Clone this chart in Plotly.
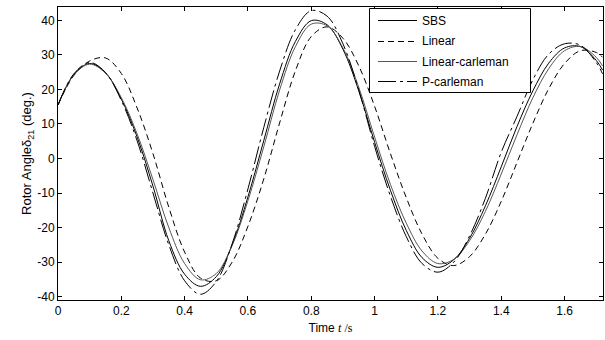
import plotly.graph_objects as go

t = [0, 0.05, 0.1, 0.15, 0.2, 0.25, 0.3, 0.35, 0.4, 0.45, 0.5, 0.55, 0.6, 0.65,
     0.7, 0.75, 0.8, 0.85, 0.9, 0.95, 1.0, 1.05, 1.1, 1.15, 1.2, 1.25, 1.3, 1.35,
     1.4, 1.45, 1.5, 1.55, 1.6, 1.65, 1.7, 1.72]

sbs = [15.5, 24.3, 27.5, 24.8, 17.2, 6.2, -8.0, -23.8, -33.5, -37.0, -34.2, -25.0,
       -11.1, 5.2, 21.6, 33.9, 39.9, 38.7, 31.6, 19.6, 4.7, -9.2, -20.8, -28.7,
       -31.5, -29.3, -23.1, -13.7, -2.4, 9.3, 19.6, 27.6, 32.0, 32.4, 28.4, 25.6]

linear = [15.5, 24.0, 28.2, 29.1, 24.6, 14.6, 1.4, -14.1, -27.1, -34.6, -35.4, -30.0,
          -19.6, -5.9, 10.3, 25.4, 35.3, 38.1, 34.8, 26.8, 15.1, 1.4, -11.3, -21.9,
          -28.9, -31.0, -28.4, -21.9, -12.4, -1.1, 10.2, 20.2, 27.5, 31.2, 30.7, 29.3]

lin_carleman = [15.5, 24.2, 27.3, 24.7, 17.6, 7.1, -6.1, -20.0, -30.4, -35.1, -33.3, -25.2,
                -12.2, 3.4, 19.8, 32.4, 38.9, 38.4, 32.0, 20.6, 6.2, -7.5, -18.7, -26.8,
                -30.4, -29.2, -23.8, -15.3, -4.5, 6.9, 17.6, 26.0, 31.2, 32.4, 29.3, 26.8]

p_carleman = [15.5, 24.5, 27.8, 24.9, 16.8, 5.1, -10.0, -25.0, -35.4, -39.3, -35.6, -24.7,
              -8.8, 9.0, 25.3, 37.3, 42.8, 41.2, 33.2, 19.8, 3.5, -10.9, -22.6, -30.4,
              -32.9, -30.0, -22.4, -11.5, 1.8, 12.2, 22.8, 30.2, 33.2, 32.8, 27.8, 24.5]

names = ["SBS", "Linear", "Linear-carleman", "P-carleman"]
series = [sbs, linear, lin_carleman, p_carleman]
styles = [
    dict(color="black", width=1, dash="solid"),
    dict(color="black", width=1, dash="6px,4px"),
    dict(color="#444444", width=0.9, dash="solid"),
    dict(color="black", width=1, dash="18px,4px,3px,4px"),
]

fig = go.Figure()
for n, s, st in zip(names, series, styles):
    fig.add_trace(go.Scatter(x=t, y=s, mode="lines", name=n, showlegend=False,
                             line=dict(shape="spline", smoothing=1, **st)))

# Plot-area geometry (pixels) used to place the legend box in paper coords
L, R, T, B = 58, 603, 7, 300
W, H = R - L, B - T
def px(x):
    return (x - L) / W
def py(y):
    return (B - y) / H

shapes = [dict(type="rect", xref="paper", yref="paper",
               x0=px(369.5), x1=px(530.5), y0=py(92.5), y1=py(8.5),
               fillcolor="white", line=dict(color="black", width=1), layer="above")]
annotations = []
rows = [20.5, 41.5, 61.5, 81.5]
for n, st, ry in zip(names, styles, rows):
    shapes.append(dict(type="line", xref="paper", yref="paper",
                       x0=px(378), x1=px(417), y0=py(ry), y1=py(ry),
                       line=dict(color=st["color"], width=st["width"], dash=st["dash"]),
                       layer="above"))
    annotations.append(dict(text=n, xref="paper", yref="paper", x=px(420), y=py(ry),
                            xanchor="left", yanchor="middle", showarrow=False,
                            font=dict(family="Liberation Sans, Arial, sans-serif",
                                      size=12, color="black")))

font = dict(family="Liberation Sans, Arial, sans-serif", size=12, color="black")

fig.update_layout(
    width=605, height=340,
    margin=dict(l=L, r=605 - R, t=T, b=340 - B),
    paper_bgcolor="white", plot_bgcolor="white",
    font=font,
    showlegend=False,
    shapes=shapes,
    annotations=annotations,
    xaxis=dict(range=[0, 1.7214], tickmode="array",
               tickvals=[0, 0.2, 0.4, 0.6, 0.8, 1, 1.2, 1.4, 1.6],
               ticktext=["0", "0.2", "0.4", "0.6", "0.8", "1", "1.2", "1.4", "1.6"],
               ticks="inside", ticklen=4, tickcolor="black",
               showline=True, linecolor="black", linewidth=1, mirror="ticks",
               showgrid=False, zeroline=False,
               title=dict(text="Time <span style='font-family:Liberation Serif'><i>t</i> /s</span>",
                          standoff=6, font=dict(size=12))),
    yaxis=dict(range=[-40.96, 43.85], tickmode="array",
               tickvals=[-40, -30, -20, -10, 0, 10, 20, 30, 40],
               ticktext=["-40", "-30", "-20", "-10", "0", "10", "20", "30", "40"],
               ticks="inside", ticklen=4, tickcolor="black",
               showline=True, linecolor="black", linewidth=1, mirror="ticks",
               showgrid=False, zeroline=False,
               title=dict(text="Rotor Angle\u03b4<sub>21</sub> (deg.)",
                          standoff=2, font=dict(size=13))),
)

fig.write_html("out.html")
